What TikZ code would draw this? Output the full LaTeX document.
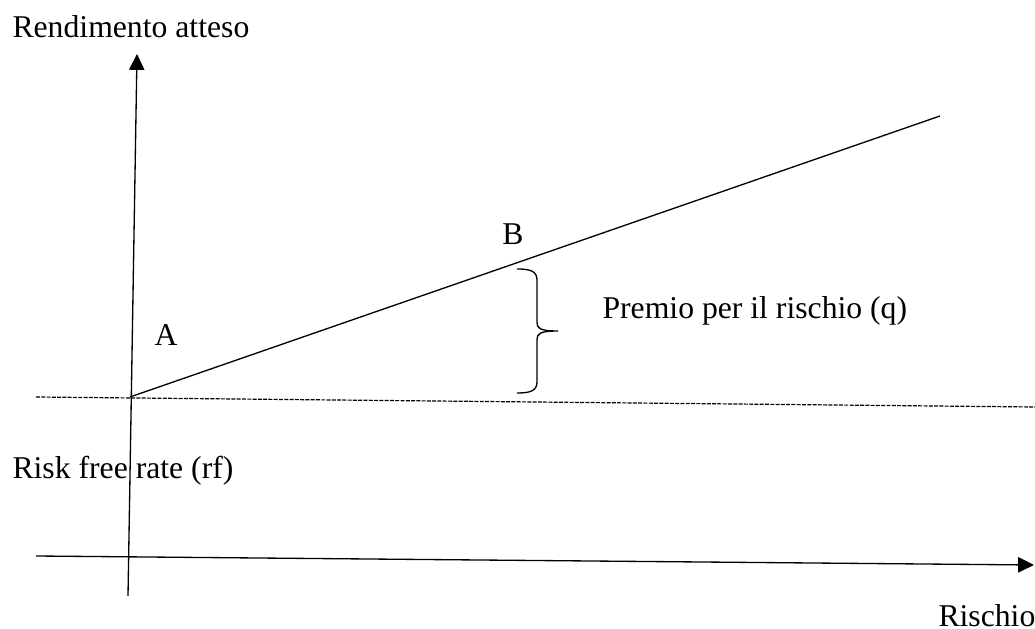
\documentclass[tikz,border=0pt]{standalone}
\usepackage{fontspec}
\setmainfont{Liberation Serif}
\usetikzlibrary{positioning,arrows.meta}

\begin{document}
\begin{tikzpicture}[
    x=0.0133cm, y=-0.0133cm,
    axis/.style={line width=0.5pt, -{Triangle[length=6pt,width=5.8pt]}},
    rfline/.style={line width=0.45pt, dash pattern=on 1.5pt off 0.5pt},
    sml/.style={line width=0.5pt},
    lbl/.style={font=\fontsize{12}{14}\selectfont, inner sep=0pt},
  ]
    \useasboundingbox (0,0) rectangle (1035,629);

    % ── Points of the axes, the rf level and the market line ─────────────
    \coordinate (yb) at (128,596);
    \coordinate (yt) at (137,54);
    \coordinate (xl) at (36,556);
    \coordinate (xr) at (1034,565);
    \coordinate (rl) at (36,397);
    \coordinate (rr) at (1035,407);
    \coordinate (o)  at (130,397);
    \coordinate (e)  at (940,116);
    \coordinate (bt) at (517,269);
    \coordinate (bb) at (517,393);
    \coordinate (tip) at (558,331);

    % ── Labels ───────────────────────────────────────────────────────────
    \node[lbl, anchor=base west] (ylab) at (12,38)  {Rendimento atteso};
    \node[lbl, anchor=base west] (xlab) at (938,626) {Rischio};
    \node[lbl, anchor=base west] (rf)   at (12,479) {Risk free rate (rf)};
    \node[lbl, anchor=base]      (a)    at (166,345) {A};
    \node[lbl, anchor=base]      (b)    at (513,245) {B};
    \node[lbl, anchor=base west] (q)    at (602,319) {Premio per il rischio (q)};

    % ── Axes ─────────────────────────────────────────────────────────────
    \foreach \a/\b in {yb/yt, xl/xr}
      \draw[axis] (\a) -- (\b);

    % ── Risk free level and line A → B ───────────────────────────────────
    \draw[rfline] (rl) -- (rr);
    \draw[sml] (o) -- (e);

    % ── Risk premium brace ───────────────────────────────────────────────
    \draw[sml]
      (bt) .. controls (530,269) and (537,271) .. (537,280) -- (537,322)
           .. controls (537,328) and (539,331) .. (tip)
      (tip) .. controls (539,331) and (537,334) .. (537,340) -- (537,382)
           .. controls (537,391) and (530,393) .. (bb);
  \end{tikzpicture}
\end{document}
